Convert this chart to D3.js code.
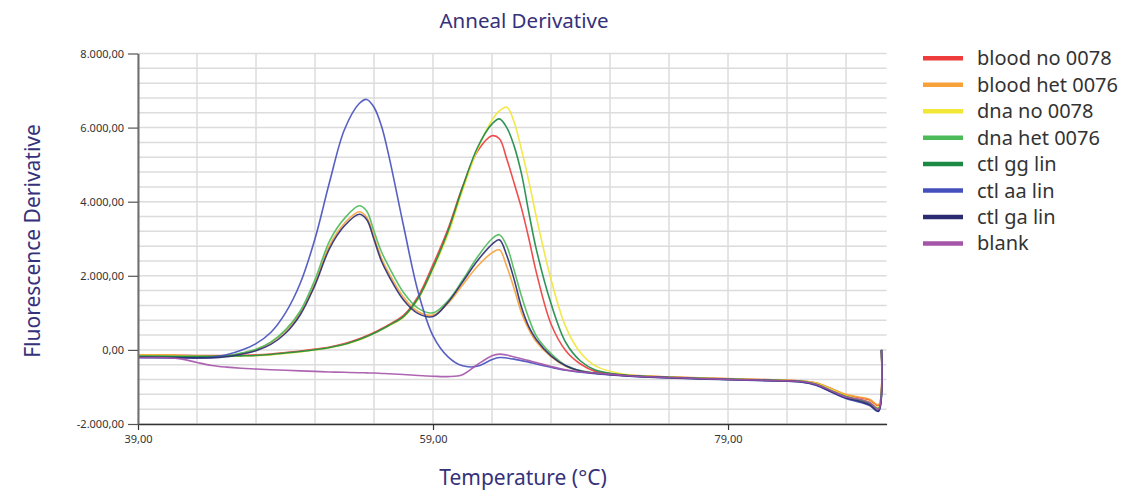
<!DOCTYPE html>
<html>
<head>
<meta charset="utf-8">
<script src="https://cdn.jsdelivr.net/npm/d3@7"></script>
<style>
  html, body { margin: 0; padding: 0; background: #fff; }
  text { font-family: "Noto Sans", "DejaVu Sans", sans-serif; }
</style>
</head>
<body>
<svg id="chart" width="1129" height="492"></svg>
<script>
// ---------- DATA ----------
const temps = [39, 41, 42, 43, 44, 45, 46, 47, 48, 49, 50, 51, 52, 53, 54, 54.5, 55, 55.5, 56, 57, 58, 59, 60, 61, 62, 63, 63.5, 64, 64.5, 65, 65.5, 66, 67, 68, 69, 70, 72, 75, 79, 82, 84, 85, 86, 87, 88, 88.6, 89.2, 89.4];

const seriesNames = ["blood no 0078", "blood het 0076", "dna no 0078", "dna het 0076", "ctl gg lin", "ctl aa lin", "ctl ga lin", "blank"];
const seriesColors = ["#ee3b3b", "#f7a13a", "#f2e636", "#4cba58", "#1b8a45", "#4650bd", "#2b2b72", "#a554a8"];

const bloodNo0078 = [-130, -140, -145, -150, -150, -150, -145, -135, -110, -70, -30, 20, 80, 170, 300, 380, 470, 570, 680, 930, 1450, 2300, 3250, 4400, 5350, 5780, 5700, 5150, 4500, 3820, 3000, 2100, 700, -20, -380, -580, -680, -730, -780, -810, -840, -900, -1050, -1220, -1300, -1350, -1500, 0];
const bloodHet0076 = [-130, -140, -150, -175, -200, -170, -95, 5, 195, 510, 1000, 1800, 2830, 3420, 3730, 3580, 3050, 2480, 2080, 1420, 1030, 940, 1250, 1750, 2250, 2620, 2700, 2250, 1650, 1000, 550, 220, -180, -440, -570, -630, -680, -725, -775, -805, -835, -890, -1040, -1200, -1280, -1330, -1480, 0];
const dnaNo0078 = [-150, -155, -160, -165, -170, -170, -165, -155, -135, -95, -55, 0, 60, 145, 270, 350, 440, 540, 650, 880, 1370, 2180, 3100, 4300, 5400, 6200, 6450, 6550, 6150, 5400, 4550, 3600, 1900, 620, -80, -430, -660, -740, -790, -820, -845, -910, -1070, -1240, -1340, -1400, -1560, 0];
const dnaHet0076 = [-170, -180, -190, -200, -200, -160, -85, 15, 210, 540, 1050, 1900, 2950, 3550, 3890, 3750, 3200, 2650, 2250, 1550, 1120, 1000, 1320, 1880, 2500, 3000, 3110, 2800, 2150, 1450, 850, 380, -100, -420, -560, -620, -690, -745, -795, -825, -855, -940, -1110, -1280, -1380, -1460, -1620, 0];
const ctlGgLin = [-170, -170, -170, -170, -170, -165, -160, -150, -125, -85, -45, 5, 65, 150, 280, 360, 450, 550, 660, 900, 1400, 2220, 3180, 4380, 5450, 6100, 6235, 6000, 5500, 4750, 3700, 2720, 1250, 200, -300, -540, -680, -740, -790, -820, -850, -930, -1100, -1260, -1360, -1430, -1580, 0];
const ctlAaLin = [-210, -215, -218, -220, -200, -130, -10, 170, 470, 1000, 1800, 3000, 4550, 5950, 6650, 6760, 6550, 6050, 5250, 3350, 1550, 380, -180, -430, -440, -260, -205, -220, -250, -290, -330, -380, -470, -550, -600, -640, -700, -755, -805, -835, -870, -960, -1140, -1310, -1420, -1500, -1660, 0];
const ctlGaLin = [-200, -205, -210, -215, -215, -185, -115, -20, 150, 450, 950, 1750, 2750, 3350, 3660, 3520, 2980, 2400, 2000, 1350, 980, 900, 1280, 1830, 2400, 2850, 2970, 2550, 1900, 1150, 620, 280, -160, -430, -570, -630, -695, -750, -800, -830, -865, -950, -1130, -1300, -1400, -1480, -1650, 0];
const blank = [-210, -210, -250, -340, -420, -465, -495, -515, -535, -550, -565, -580, -595, -605, -615, -620, -625, -635, -645, -665, -690, -710, -720, -670, -400, -160, -115, -140, -190, -240, -290, -340, -450, -540, -590, -625, -690, -745, -795, -825, -855, -935, -1100, -1270, -1340, -1420, -1600, 0];

const seriesValues = [bloodNo0078, bloodHet0076, dnaNo0078, dnaHet0076, ctlGgLin, ctlAaLin, ctlGaLin, blank];

const xTickValues = [39, 59, 79];
const yTickValues = [-2000, 0, 2000, 4000, 6000, 8000];
const xGridValues = d3.range(39, 89, 4);
const yGridValues = d3.range(-2000, 8001, 400);

const titleText = "Anneal Derivative";
const xTitle = "Temperature (°C)";
const yTitle = "Fluorescence Derivative";

// ---------- CHART ----------
const svg = d3.select("#chart");
const x = d3.scaleLinear().domain([39, 89.75]).range([138, 886.6]);
const y = d3.scaleLinear().domain([-2000, 8000]).range([424, 53.5]);

const loc = d3.formatLocale({decimal: ",", thousands: ".", grouping: [3], currency: ["", ""], minus: "-"});
const fmt = loc.format(",.2f");

// grid
const grid = svg.append("g");
grid.selectAll("line.v").data(xGridValues).join("line")
  .attr("x1", d => x(d)).attr("x2", d => x(d))
  .attr("y1", y(8000)).attr("y2", y(-2000))
  .attr("stroke", "#dcdcdc").attr("stroke-width", 1.5);
grid.selectAll("line.h").data(yGridValues).join("line")
  .attr("x1", x(39)).attr("x2", x(89.75))
  .attr("y1", d => y(d)).attr("y2", d => y(d))
  .attr("stroke", "#dcdcdc").attr("stroke-width", 1.5);

// lines
const line = d3.line().x((d, i) => x(temps[i])).y(d => y(d)).curve(d3.curveCatmullRom.alpha(0.5));
svg.append("g").selectAll("path").data(seriesValues).join("path")
  .attr("d", d => line(d))
  .attr("fill", "none")
  .attr("stroke", (d, i) => seriesColors[i])
  .attr("stroke-width", 1.6)
  .attr("stroke-opacity", 0.9);

// axes
const xAxis = svg.append("g").attr("transform", `translate(0,${y(-2000)})`)
  .call(d3.axisBottom(x).tickValues(xTickValues).tickFormat(fmt).tickSize(6).tickSizeOuter(0));
xAxis.select(".domain").attr("stroke", "#333").attr("stroke-width", 1.5);
xAxis.selectAll(".tick line").attr("stroke", "#333").attr("stroke-width", 1.2);
xAxis.selectAll(".tick text").attr("font-size", 11).attr("fill", "#333").attr("dy", "0.9em")
  .attr("font-family", "'Noto Sans', sans-serif");

const yAxis = svg.append("g").attr("transform", `translate(${x(39)},0)`)
  .call(d3.axisLeft(y).tickValues(yTickValues).tickFormat(fmt).tickSize(10).tickSizeOuter(0));
yAxis.select(".domain").attr("stroke", "#6e6e6e").attr("stroke-width", 2);
yAxis.selectAll(".tick line").attr("stroke", "#555").attr("stroke-width", 1.2);
yAxis.selectAll(".tick text").attr("font-size", 11).attr("fill", "#333").attr("x", -14)
  .attr("font-family", "'Noto Sans', sans-serif");

// titles
svg.append("text").attr("x", 524).attr("y", 28).attr("text-anchor", "middle")
  .attr("font-size", 20.5).attr("fill", "#35317a").text(titleText);
svg.append("text").attr("x", 523).attr("y", 485).attr("text-anchor", "middle")
  .attr("font-size", 21).attr("fill", "#35317a").text(xTitle);
svg.append("text").attr("transform", "translate(40,241) rotate(-90)").attr("text-anchor", "middle")
  .attr("font-size", 21).attr("fill", "#35317a").text(yTitle);

// legend
const legend = svg.append("g");
const rows = legend.selectAll("g").data(seriesNames).join("g")
  .attr("transform", (d, i) => `translate(0,${58.3 + i * 26.45})`);
rows.append("line").attr("x1", 923).attr("x2", 963).attr("y1", 0).attr("y2", 0)
  .attr("stroke", (d, i) => seriesColors[i]).attr("stroke-width", 4.5);
rows.append("text").attr("x", 977).attr("y", 0).attr("dy", "0.35em")
  .attr("font-size", 20).attr("fill", "#333").text(d => d);
</script>
</body>
</html>
